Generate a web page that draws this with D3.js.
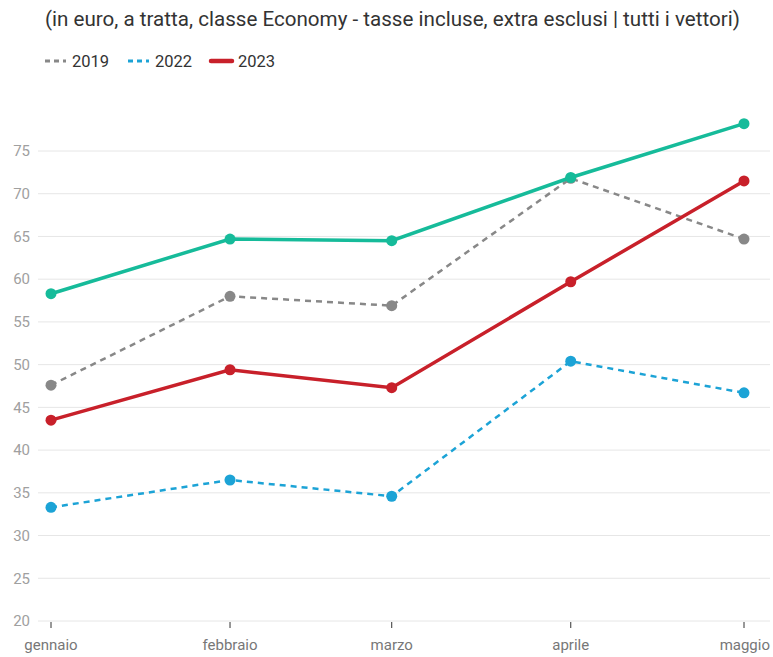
<!DOCTYPE html>
<html><head><meta charset="utf-8">
<script src="https://cdn.jsdelivr.net/npm/d3@7"></script>
<style>
body{margin:0;background:#fff;font-family:Roboto,"Noto Sans",sans-serif;}
</style></head>
<body><svg id="c" width="773" height="657"></svg>
<script>
const months = ["gennaio","febbraio","marzo","aprile","maggio"];
const dates = ["2023-01-01","2023-02-01","2023-03-01","2023-04-01","2023-05-01"];
const seriesGreen = [58.3, 64.7, 64.5, 71.9, 78.2];
const series2019 = [47.6, 58.0, 56.9, 71.8, 64.7];
const series2022 = [33.3, 36.5, 34.6, 50.4, 46.7];
const series2023 = [43.5, 49.4, 47.3, 59.7, 71.5];
const yTicks = [20,25,30,35,40,45,50,55,60,65,70,75];
const title = "(in euro, a tratta, classe Economy - tasse incluse, extra esclusi | tutti i vettori)";

const svg = d3.select("#c");
const parse = d3.timeParse("%Y-%m-%d");
const x = d3.scaleTime().domain([parse(dates[0]), parse(dates[4])]).range([51, 744]);
const y = d3.scaleLinear().domain([20, 75]).range([621, 151]);

svg.append("text").attr("x", 45).attr("y", 26).attr("font-size", 20.6).attr("fill", "#333").text(title);

// grid
const grid = svg.append("g");
yTicks.forEach(t => {
  grid.append("line").attr("x1", 38).attr("x2", 770).attr("y1", y(t)).attr("y2", y(t))
    .attr("stroke", "#e6e6e6").attr("stroke-width", 1);
  grid.append("text").attr("x", 30).attr("y", y(t)).attr("dy", "0.35em").attr("text-anchor", "end")
    .attr("font-size", 15).attr("fill", "#a0a0a0").text(t);
});
// x axis ticks and labels
months.forEach((m, i) => {
  const px = x(parse(dates[i]));
  svg.append("line").attr("x1", px).attr("x2", px).attr("y1", 622).attr("y2", 628).attr("stroke", "#333").attr("stroke-width", 1);
  svg.append("text").attr("x", px).attr("y", 650).attr("text-anchor", i === 4 ? "end" : "middle")
    .attr("dx", i === 4 ? 26 : 0)
    .attr("font-size", 15).attr("fill", "#777").text(m);
});

const series = [
  {name: "2022", values: series2022, color: "#1ca3d6", width: 2.5, dash: "6,5"},
  {name: "2019", values: series2019, color: "#888888", width: 2.5, dash: "6,5"},
  {name: "2023", values: series2023, color: "#c8202a", width: 3.5, dash: null},
  {name: "", values: seriesGreen, color: "#16bb9a", width: 3.5, dash: null}
];
const line = d3.line().x((d, i) => x(parse(dates[i]))).y(d => y(d));
series.forEach(s => {
  svg.append("path").attr("d", line(s.values)).attr("fill", "none").attr("stroke", s.color)
    .attr("stroke-width", s.width).attr("stroke-dasharray", s.dash);
  svg.append("g").selectAll("circle").data(s.values).join("circle")
    .attr("cx", (d, i) => x(parse(dates[i]))).attr("cy", d => y(d)).attr("r", 5.5).attr("fill", s.color);
});

// legend
const legend = [
  {name: "2019", color: "#888888", dash: "5,4", w: 3, x: 45},
  {name: "2022", color: "#1ca3d6", dash: "5,4", w: 3, x: 128},
  {name: "2023", color: "#c8202a", dash: null, w: 4.5, x: 211}
];
legend.forEach(l => {
  svg.append("line").attr("x1", l.x).attr("x2", l.x + 21).attr("y1", 61).attr("y2", 61)
    .attr("stroke", l.color).attr("stroke-width", l.w).attr("stroke-dasharray", l.dash)
    .attr("stroke-linecap", l.dash ? null : "round");
  svg.append("text").attr("x", l.x + 27).attr("y", 61).attr("dy", "0.35em").attr("font-size", 16.5).attr("fill", "#333").text(l.name);
});
</script></body></html>
